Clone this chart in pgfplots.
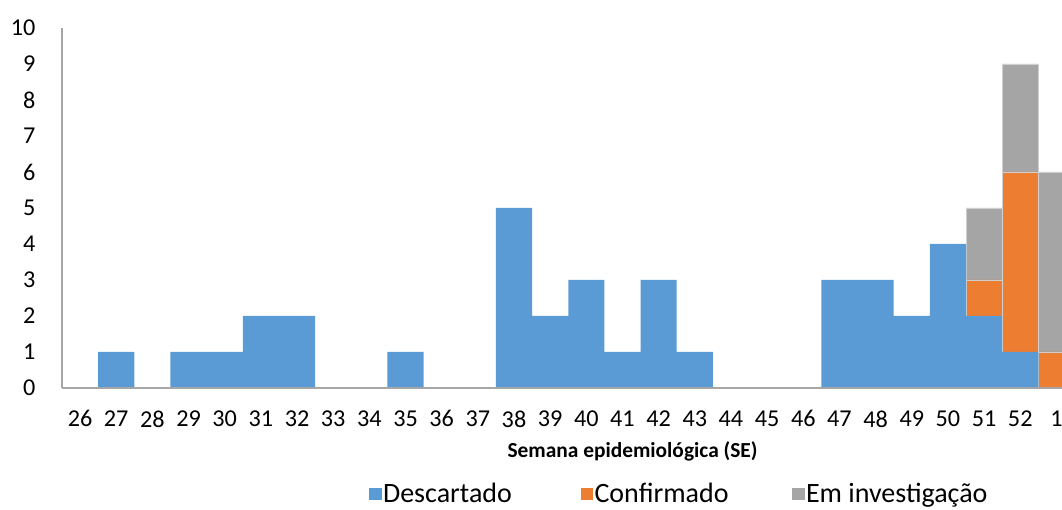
\documentclass[border=0pt]{standalone}
\usepackage{pgfplots}
\pgfplotsset{compat=1.18}
\usepackage{pgfplotstable}
\usepackage{fontspec}
\setmainfont{Carlito}
\definecolor{cblue}{HTML}{5B9BD5}
\definecolor{corange}{HTML}{ED7D31}
\definecolor{cgray}{HTML}{A5A5A5}
\definecolor{axgray}{HTML}{A6A6A6}
\definecolor{edgec}{HTML}{D0D0D0}
\pgfplotstableread{
idx blue orange gray
0 0 0 0
1 1 0 0
2 0 0 0
3 1 0 0
4 1 0 0
5 2 0 0
6 2 0 0
7 0 0 0
8 0 0 0
9 1 0 0
10 0 0 0
11 0 0 0
12 5 0 0
13 2 0 0
14 3 0 0
15 1 0 0
16 3 0 0
17 1 0 0
18 0 0 0
19 0 0 0
20 0 0 0
21 3 0 0
22 3 0 0
23 2 0 0
24 4 0 0
25 2 1 2
26 1 5 3
27 0 1 5
}\datatable
\begin{document}
\begin{tikzpicture}
\begin{axis}[
  at={(0,0)}, anchor=south west,
  scale only axis,
  width=1000pt, height=360pt,
  xmin=-0.5, xmax=27.155,
  ymin=0, ymax=10,
  ybar stacked, bar width=1,
  axis on top,
  axis x line*=bottom, axis y line*=left,
  axis line style={draw=axgray, line width=1.5pt, -},
  major tick length=0pt,
  xtick={0,...,27},
  xticklabels={26,27,28,29,30,31,32,33,34,35,36,37,38,39,40,41,42,43,44,45,46,47,48,49,50,51,52,1},
  ytick={0,...,10},
  /pgf/number format/assume math mode=true,
  tick label style={font=\fontsize{24.2}{24.2}\selectfont, text=black},
  xticklabel style={yshift=-19pt},
  yticklabel style={xshift=-23pt},
  xlabel={Semana epidemiológica (SE)},
  xlabel style={at={(rel axis cs:0.5705,0)}, anchor=base, yshift=-70pt, font=\fontsize{21.4}{21.4}\selectfont\bfseries},
  legend columns=3,
  legend style={at={(rel axis cs:0.617,0)}, anchor=center, yshift=-106pt, draw=none, fill=none,
    font=\fontsize{28}{28}\selectfont, inner sep=0pt, column sep=0pt,
    nodes={inner sep=1.5pt}},
  legend image code/.code={\fill[#1, draw=none] (0pt,-6.5pt) rectangle (12.5pt,6pt);},
]
\addplot[fill=cblue, draw=none] table[x=idx, y=blue] {\datatable};
\addlegendentry{\makebox[196pt][l]{Descartado}}
\addplot[fill=corange, draw=edgec, line width=0.4pt] table[x=idx, y=orange] {\datatable};
\addlegendentry{\makebox[196pt][l]{Confirmado}}
\addplot[fill=cgray, draw=edgec, line width=0.4pt] table[x=idx, y=gray] {\datatable};
\addlegendentry{Em investigação}
\end{axis}
\pgfresetboundingbox
\useasboundingbox (-62pt,-122pt) rectangle (1000pt,388pt);
\end{tikzpicture}
\end{document}
